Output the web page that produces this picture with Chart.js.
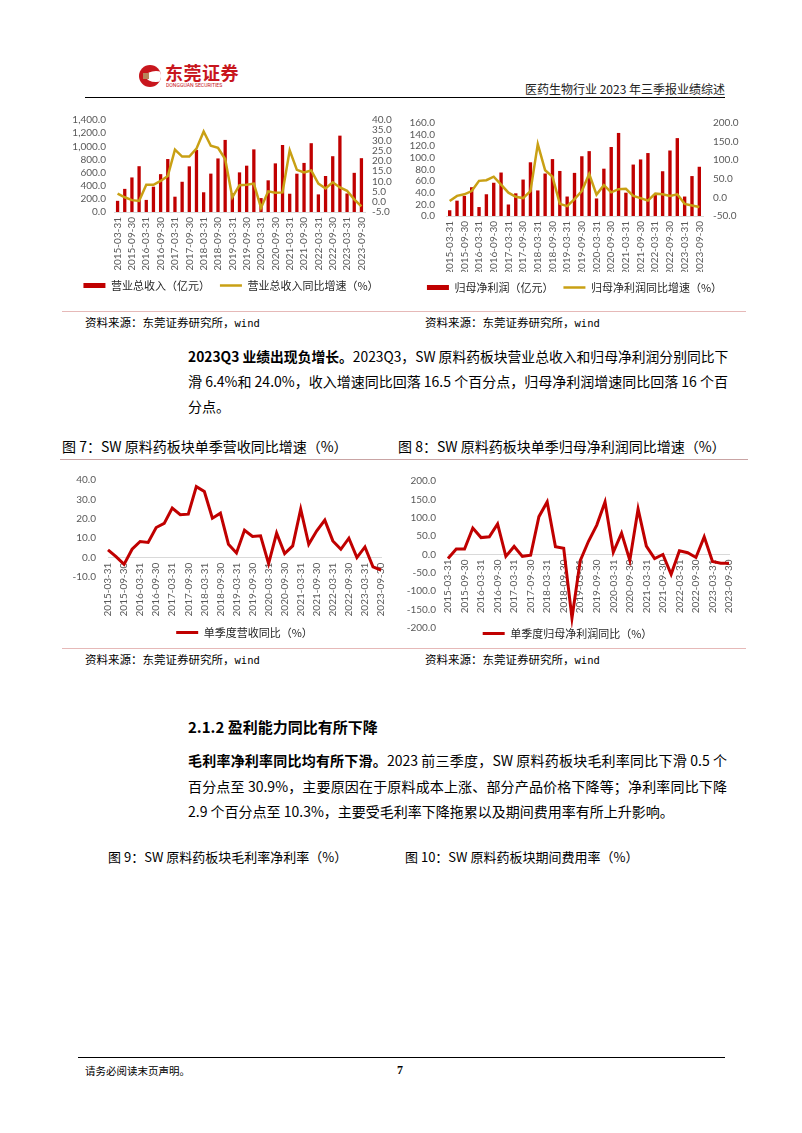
<!DOCTYPE html>
<html lang="zh-CN">
<head>
<meta charset="utf-8">
<title>医药生物行业 2023 年三季报业绩综述</title>
<script src="https://cdn.jsdelivr.net/npm/chart.js@4.4.1/dist/chart.umd.min.js"></script>
<style>
  html, body { margin: 0; padding: 0; background: #fff; }
  body {
    width: 802px; height: 1133px; position: relative; overflow: hidden;
    font-family: "Noto Sans CJK SC", "Noto Sans", sans-serif; color: #000;
  }
  .abs  { position: absolute; white-space: nowrap; line-height: 1.4; }
  .hr   { position: absolute; height: 0; }
  .cv   { position: absolute; }
  .src  { font-size: 11.5px; }
  .src .en { font-family: "DejaVu Sans Mono", monospace; font-size: 10.5px; }
  .cap  { font-size: 14px; }
  .para { position: absolute; left: 188px; width: 539px; font-size: 14px; line-height: 20px;
          white-space: nowrap; text-align: justify; text-align-last: justify; }
  .para.last { text-align-last: left; }
  .para b { font-weight: 700; }
</style>
</head>
<body>

<!-- header -->
<div class="cv" style="left:139px;top:65px;width:22px;height:22px;border-radius:50%;background:#c8161d;overflow:hidden">
  <div style="position:absolute;left:7px;top:6px;width:20px;height:11px;border-radius:50%;background:#fff"></div>
  <div style="position:absolute;left:4px;top:8px;width:6px;height:6px;background:#b8865b"></div>
</div>
<div class="abs" style="left:165px;top:60px;font-size:18px;font-weight:700;color:#c8161d;letter-spacing:0.5px">东莞证券</div>
<div class="abs" style="left:166px;top:82px;font-size:6px;color:#c8161d;font-family:Roboto;transform:scale(0.85);transform-origin:left top">DONGGUAN SECURITIES</div>
<div class="abs" style="left:500px;top:81px;width:225px;text-align:right;font-size:12px;color:#222">医药生物行业 2023 年三季报业绩综述</div>
<div class="hr" style="left:85px;top:97px;width:640px;border-top:1.5px solid #000"></div>

<!-- figures 5 / 6 -->
<div class="cv" style="left:62px;top:106px;width:338px;height:197px"><canvas id="c1"></canvas></div>
<div class="cv" style="left:402px;top:106px;width:345px;height:197px"><canvas id="c2"></canvas></div>
<div class="hr" style="left:62px;top:311px;width:684px;border-top:1px solid #e6b9b8"></div>
<div class="abs src" style="left:85px;top:314px">资料来源：东莞证券研究所，<span class="en">wind</span></div>
<div class="abs src" style="left:425px;top:314px">资料来源：东莞证券研究所，<span class="en">wind</span></div>

<div class="para" style="top:346px"><b>2023Q3 业绩出现负增长。</b>2023Q3，SW 原料药板块营业总收入和归母净利润分别同比下</div>
<div class="para" style="top:371px">滑 6.4%和 24.0%，收入增速同比回落 16.5 个百分点，归母净利润增速同比回落 16 个百</div>
<div class="para last" style="top:396px">分点。</div>

<!-- figures 7 / 8 -->
<div class="abs cap" style="left:62px;top:437px">图 7：SW 原料药板块单季营收同比增速（%）</div>
<div class="abs cap" style="left:398px;top:437px">图 8：SW 原料药板块单季归母净利润同比增速（%）</div>
<div class="hr" style="left:60px;top:459px;width:688px;border-top:1px solid #c9a4a4"></div>
<div class="cv" style="left:62px;top:462px;width:336px;height:186px"><canvas id="c3"></canvas></div>
<div class="cv" style="left:403px;top:462px;width:343px;height:187px"><canvas id="c4"></canvas></div>
<div class="hr" style="left:62px;top:648px;width:684px;border-top:1px solid #e6b9b8"></div>
<div class="abs src" style="left:85px;top:651px">资料来源：东莞证券研究所，<span class="en">wind</span></div>
<div class="abs src" style="left:425px;top:651px">资料来源：东莞证券研究所，<span class="en">wind</span></div>

<!-- 2.1.2 -->
<div class="abs" style="left:188px;top:716px;font-size:15px;font-weight:700">2.1.2 盈利能力同比有所下降</div>
<div class="para" style="top:750px"><b>毛利率净利率同比均有所下滑。</b>2023 前三季度，SW 原料药板块毛利率同比下滑 0.5 个</div>
<div class="para" style="top:776px">百分点至 30.9%，主要原因在于原料成本上涨、部分产品价格下降等；净利率同比下降</div>
<div class="para last" style="top:801px">2.9 个百分点至 10.3%，主要受毛利率下降拖累以及期间费用率有所上升影响。</div>

<div class="abs" style="left:108px;top:848px;font-size:13px">图 9：SW 原料药板块毛利率净利率（%）</div>
<div class="abs" style="left:405px;top:848px;font-size:13px">图 10：SW 原料药板块期间费用率（%）</div>

<!-- footer -->
<div class="hr" style="left:78px;top:1057px;width:647px;border-top:1.5px solid #000"></div>
<div class="abs" style="left:85px;top:1064px;font-size:10.5px">请务必阅读末页声明。</div>
<div class="abs" style="left:397px;top:1062px;font-size:12px;font-family:'Liberation Serif',serif;font-weight:700">7</div>

<script>
// ── Data ─────────────────────────────────────────────────────────────────────
const quarters = [
  '2015-03-31','2015-06-30','2015-09-30','2015-12-31',
  '2016-03-31','2016-06-30','2016-09-30','2016-12-31',
  '2017-03-31','2017-06-30','2017-09-30','2017-12-31',
  '2018-03-31','2018-06-30','2018-09-30','2018-12-31',
  '2019-03-31','2019-06-30','2019-09-30','2019-12-31',
  '2020-03-31','2020-06-30','2020-09-30','2020-12-31',
  '2021-03-31','2021-06-30','2021-09-30','2021-12-31',
  '2022-03-31','2022-06-30','2022-09-30','2022-12-31',
  '2023-03-31','2023-06-30','2023-09-30'
];

// 营业总收入（亿元），累计
const revenue = [170, 352, 526, 697, 184, 385, 576, 806, 233, 460, 695, 945,
  300, 584, 815, 1097, 285, 603, 705, 953, 212, 482, 740, 1020,
  278, 583, 747, 1047, 268, 548, 849, 1162, 282, 596, 819];
// 营业总收入同比增速（%）
const revenueYoY = [4.0, 2.2, 0.8, 0.4, 8.3, 8.3, 10.2, 12.6, 25.5, 22.1, 22.1, 26.0,
  34.4, 27.4, 26.4, 20.9, 2.2, 8.1, 8.3, 8.9, -3.0, 5.1, 4.4, 4.6,
  25.2, 15.6, 14.3, 15.3, 8.9, 6.5, 9.5, 7.0, 5.4, 1.2, -2.3];

// 归母净利润（亿元），累计
const netProfit = [9.9, 26.4, 34.6, 49.5, 15.4, 37.4, 57.2, 74.8, 19.8, 39.0, 62.7, 92.4,
  44.0, 73.1, 97.9, 77.5, 33.5, 74.2, 102.8, 111.6, 30.2, 81.4, 118.7, 142.9,
  40.1, 88.5, 97.3, 108.3, 36.0, 77.0, 112.7, 134.0, 33.5, 68.7, 84.7];
// 归母净利润同比增速（%）
const netProfitYoY = [-9.6, 4.1, 8.4, 17.0, 44.5, 46.2, 55.7, 34.2, 12.7, 1.5, -1.9, 17.0,
  143.3, 72.9, 55.7, -17.3, -23.4, -4.5, 17.0, 63.0, 7.5, 33.0, 13.6, 22.2,
  23.0, 4.1, -1.9, -8.8, 10.1, 8.4, 4.1, 8.4, -17.4, -21.6, -25.9];

// 单季度营收同比（%）
const qRevenueYoY = [4.0, 0.5, -3.5, 4.3, 8.3, 7.8, 15.5, 17.6, 25.5, 22.1, 22.4, 36.6,
  34.1, 20.3, 22.9, 6.9, 2.4, 14.1, 10.9, 11.2, -3.1, 12.6, 2.1, 6.0,
  25.0, 6.9, 13.8, 19.3, 8.6, 4.3, 10.0, 0.0, 5.5, -4.8, -6.4];
// 单季度归母净利润同比（%）
const qProfitYoY = [-11, 15, 15, 72, 46, 48, 83, -5, 22, -5, -2, 103,
  143, 21, 17, -173, -17, 36, 80, 143, 6, 58, -16, 124,
  23, -11, 0, -54, 10, 5, -8, 48, -19, -24, -24];

// ── Styling ──────────────────────────────────────────────────────────────────
const RED  = '#C00000';
const GOLD = '#C9A014';
const AXIS = '#D9D9D9';

Chart.defaults.font.family = 'Lato, "Noto Sans CJK SC", sans-serif';
Chart.defaults.font.size   = 10;
Chart.defaults.color       = '#595959';
Chart.defaults.animation   = false;
Chart.defaults.maintainAspectRatio = false;
Chart.defaults.plugins.tooltip.enabled = false;

const fmt1       = v => Number(v).toLocaleString('en-US', { minimumFractionDigits: 1, maximumFractionDigits: 1 });
const everyOther = (v, i) => (i % 2 === 0 ? quarters[i] : '');
const noGrid     = { display: false, drawTicks: false };

// fixed axis sizes keep the plot boxes where the page has them
function xAxis(height, extra) {
  return Object.assign({
    grid: noGrid,
    border: { color: AXIS },
    ticks: { autoSkip: false, minRotation: 90, maxRotation: 90, padding: 5, callback: everyOther },
    afterFit: s => { if (height) s.height = height; }
  }, extra);
}

function yAxis(position, min, max, step, pad, width) {
  return {
    position, min, max,
    grid: noGrid,
    border: { display: false },
    ticks: { stepSize: step, padding: pad, autoSkip: false, callback: fmt1 },
    afterFit: s => { s.width = width; }
  };
}

function legend(padding, extra) {
  return Object.assign({
    position: 'bottom',
    labels: {
      usePointStyle: true, pointStyleWidth: 22, boxHeight: 5, padding,
      color: '#262626', font: { family: '"Noto Sans CJK SC", sans-serif', size: 11 },
      sort: (a, b) => a.datasetIndex - b.datasetIndex
    }
  }, extra);
}

// ── Fig 5: revenue + YoY ─────────────────────────────────────────────────────
new Chart(document.getElementById('c1'), {
  type: 'bar',
  data: {
    labels: quarters,
    datasets: [
      { label: '营业总收入（亿元）', data: revenue, yAxisID: 'y', backgroundColor: RED,
        barPercentage: 0.46, categoryPercentage: 1, pointStyle: 'rect', order: 1 },
      { type: 'line', label: '营业总收入同比增速（%）', data: revenueYoY, yAxisID: 'y1',
        borderColor: GOLD, backgroundColor: GOLD, borderWidth: 2.5, pointRadius: 0,
        pointStyle: 'line', tension: 0, order: 0 }
    ]
  },
  options: {
    layout: { padding: { left: 2, right: 2, top: 12, bottom: 2 } },
    scales: {
      x: xAxis(58),
      y: yAxis('left', 0, 1400, 200, 8, 50),
      y1: yAxis('right', -5, 40, 5, 7, 33)
    },
    plugins: { legend: legend(10) }
  }
});

// ── Fig 6: net profit + YoY ──────────────────────────────────────────────────
new Chart(document.getElementById('c2'), {
  type: 'bar',
  data: {
    labels: quarters,
    datasets: [
      { label: '归母净利润（亿元）', data: netProfit, yAxisID: 'y', backgroundColor: RED,
        barPercentage: 0.46, categoryPercentage: 1, pointStyle: 'rect', order: 1 },
      { type: 'line', label: '归母净利润同比增速（%）', data: netProfitYoY, yAxisID: 'y1',
        borderColor: GOLD, backgroundColor: GOLD, borderWidth: 2.5, pointRadius: 0,
        pointStyle: 'line', tension: 0, order: 0 }
    ]
  },
  options: {
    layout: { padding: { left: 2, right: 2, top: 13, bottom: 0 } },
    scales: {
      x: xAxis(56),
      y: yAxis('left', 0, 160, 20, 11, 42),
      y1: yAxis('right', -50, 200, 50, 10, 42)
    },
    plugins: { legend: legend(10) }
  }
});

// ── Fig 7: single-quarter revenue YoY ────────────────────────────────────────
new Chart(document.getElementById('c3'), {
  type: 'line',
  data: {
    labels: quarters,
    datasets: [{ label: '单季度营收同比（%）', data: qRevenueYoY, borderColor: RED, backgroundColor: RED,
      borderWidth: 3, pointRadius: 0, pointStyle: 'line', tension: 0 }]
  },
  options: {
    layout: { padding: { left: 2, right: 10, top: 17, bottom: 0 } },
    scales: {
      x: xAxis(0, { position: { y: 0 } }),
      y: yAxis('left', -10, 40, 10, 12, 44)
    },
    plugins: {
      legend: legend(6, { fullSize: false,
        title: { display: true, text: ' ', padding: { top: 32, bottom: 0 }, font: { size: 10 } } })
    }
  }
});

// ── Fig 8: single-quarter net profit YoY ─────────────────────────────────────
new Chart(document.getElementById('c4'), {
  type: 'line',
  data: {
    labels: quarters,
    datasets: [{ label: '单季度归母净利润同比（%）', data: qProfitYoY, borderColor: RED, backgroundColor: RED,
      borderWidth: 3, pointRadius: 0, pointStyle: 'line', tension: 0 }]
  },
  options: {
    layout: { padding: { left: 2, right: 16, top: 19, bottom: 0 } },
    scales: {
      x: xAxis(0, { position: { y: 0 } }),
      y: yAxis('left', -200, 200, 50, 12, 43)
    },
    plugins: { legend: legend(0) }
  }
});

// ── Fit justified lines ──────────────────────────────────────────────────────
document.querySelectorAll('.para').forEach(el => {
  let size = parseFloat(getComputedStyle(el).fontSize);
  while (el.scrollWidth > el.clientWidth + 1 && size > 10) {
    size -= 0.1;
    el.style.fontSize = size + 'px';
  }
});
</script>
</body>
</html>
